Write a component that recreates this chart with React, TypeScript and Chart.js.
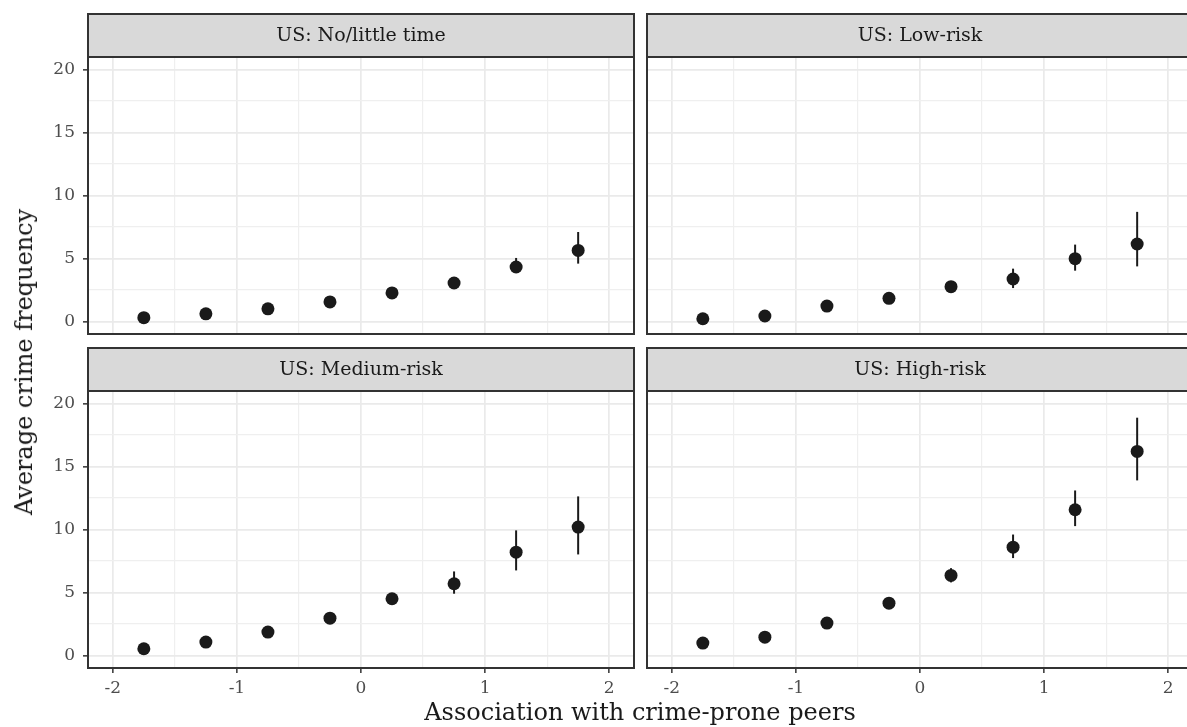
import React, { useEffect, useRef } from "react";
import { Chart, registerables } from "chart.js";

Chart.register(...registerables);

// ---------- data ----------
const xValues = [-1.75, -1.25, -0.75, -0.25, 0.25, 0.75, 1.25, 1.75];
const xTickValues = [-2, -1.5, -1, -0.5, 0, 0.5, 1, 1.5, 2];
const yTickValues = [0, 2.5, 5, 7.5, 10, 12.5, 15, 17.5, 20];

const panelTitles = ["US: No/little time", "US: Low-risk", "US: Medium-risk", "US: High-risk"];

const noLittleMean = [0.3, 0.6, 1.0, 1.55, 2.26, 3.05, 4.32, 5.64];
const noLittleLow = [0.15, 0.45, 0.8, 1.3, 1.95, 2.7, 3.85, 4.59];
const noLittleHigh = [0.45, 0.75, 1.2, 1.8, 2.55, 3.45, 5.04, 7.1];

const lowRiskMean = [0.21, 0.43, 1.22, 1.83, 2.76, 3.37, 4.98, 6.15];
const lowRiskLow = [0.1, 0.25, 0.95, 1.5, 2.35, 2.65, 4.03, 4.37];
const lowRiskHigh = [0.35, 0.6, 1.5, 2.2, 3.2, 4.19, 6.1, 8.7];

const mediumRiskMean = [0.53, 1.06, 1.85, 2.96, 4.5, 5.69, 8.2, 10.19];
const mediumRiskLow = [0.35, 0.8, 1.5, 2.55, 4.05, 4.9, 6.75, 8.02];
const mediumRiskHigh = [0.7, 1.3, 2.2, 3.4, 4.95, 6.67, 9.93, 12.63];

const highRiskMean = [0.98, 1.45, 2.57, 4.15, 6.35, 8.6, 11.57, 16.2];
const highRiskLow = [0.7, 1.1, 2.15, 3.7, 5.8, 7.73, 10.27, 13.9];
const highRiskHigh = [1.25, 1.8, 3.0, 4.6, 6.93, 9.6, 13.1, 18.88];

const xAxisTitle = "Association with crime-prone peers";
const yAxisTitle = "Average crime frequency";

// ---------- layout / style ----------
const CW = 1195;
const CH = 727;
const FONT = "'DejaVu Serif', serif";
const INK = "#1a1a1a";

type PanelDef = {
  title: string;
  mean: number[];
  low: number[];
  high: number[];
  area: [number, number, number, number];
  showX: boolean;
  showY: boolean;
};

const panels: PanelDef[] = [
  { title: panelTitles[0], mean: noLittleMean, low: noLittleLow, high: noLittleHigh, area: [88, 57, 634, 334], showX: false, showY: true },
  { title: panelTitles[1], mean: lowRiskMean, low: lowRiskLow, high: lowRiskHigh, area: [647, 57, 1193, 334], showX: false, showY: false },
  { title: panelTitles[2], mean: mediumRiskMean, low: mediumRiskLow, high: mediumRiskHigh, area: [88, 391, 634, 668], showX: true, showY: true },
  { title: panelTitles[3], mean: highRiskMean, low: highRiskLow, high: highRiskHigh, area: [647, 391, 1193, 668], showX: true, showY: false },
];

function PanelChart({ p }: { p: PanelDef }) {
  const ref = useRef<HTMLCanvasElement | null>(null);
  useEffect(() => {
    if (!ref.current) return;
    const [L, T, R, B] = p.area;
    const yw = p.showY ? 40 : 0;
    const xh = p.showX ? 30 : 0;

    const facetPlugin = {
      id: "facet",
      beforeDatasetsDraw(chart: any) {
        const { ctx, scales } = chart;
        const xs = scales.x;
        const ys = scales.y;
        ctx.save();
        ctx.strokeStyle = INK;
        ctx.lineWidth = 2;
        p.low.forEach((lo, i) => {
          const px = xs.getPixelForValue(xValues[i]);
          ctx.beginPath();
          ctx.moveTo(px, ys.getPixelForValue(lo));
          ctx.lineTo(px, ys.getPixelForValue(p.high[i]));
          ctx.stroke();
        });
        ctx.restore();
      },
      afterDraw(chart: any) {
        const { ctx, chartArea } = chart;
        const { left, top, right, bottom } = chartArea;
        ctx.save();
        ctx.strokeStyle = "#333333";
        ctx.lineWidth = 2;
        ctx.strokeRect(left, top, right - left, bottom - top);
        const sh = 43;
        ctx.fillStyle = "#D9D9D9";
        ctx.fillRect(left, top - sh, right - left, sh);
        ctx.strokeRect(left, top - sh, right - left, sh);
        ctx.fillStyle = INK;
        ctx.font = `19px ${FONT}`;
        ctx.textAlign = "center";
        ctx.textBaseline = "middle";
        ctx.fillText(p.title, (left + right) / 2, top - sh / 2 + 1);
        ctx.restore();
      },
    };

    const isMajorX = (v: number) => Number.isInteger(v);
    const isMajorY = (v: number) => v % 5 === 0;

    const chart = new Chart(ref.current, {
      type: "scatter",
      data: {
        datasets: [
          {
            data: xValues.map((x, i) => ({ x, y: p.mean[i] })),
            backgroundColor: INK,
            borderWidth: 0,
            pointRadius: 6.5,
            pointHoverRadius: 6.5,
          },
        ],
      },
      options: {
        animation: false,
        responsive: false,
        maintainAspectRatio: false,
        events: [],
        layout: {
          autoPadding: false,
          padding: { left: L - yw, top: T, right: CW - R, bottom: CH - B - xh },
        },
        plugins: { legend: { display: false }, tooltip: { enabled: false }, title: { display: false } },
        scales: {
          x: {
            type: "linear",
            min: -2.2,
            max: 2.2,
            afterBuildTicks: (s: any) => {
              s.ticks = xTickValues.map((v) => ({ value: v }));
            },
            afterFit: (s: any) => {
              s.height = xh;
            },
            border: { display: false },
            grid: {
              color: (c: any) => (isMajorX(c.tick?.value) ? "#EAEAEA" : "#EFEFEF"),
              lineWidth: (c: any) => (isMajorX(c.tick?.value) ? 1.7 : 1.2),
              drawTicks: p.showX,
              tickLength: 5,
              tickWidth: 1.5,
              tickColor: (c: any) => (isMajorX(c.tick?.value) ? "#333333" : "rgba(0,0,0,0)"),
            },
            ticks: {
              display: p.showX,
              autoSkip: false,
              maxRotation: 0,
              padding: 5,
              color: "#4D4D4D",
              font: { family: FONT, size: 17 },
              callback: (v: any) => (Number.isInteger(v) ? String(v) : ""),
            },
          },
          y: {
            type: "linear",
            min: -1,
            max: 21,
            afterBuildTicks: (s: any) => {
              s.ticks = yTickValues.map((v) => ({ value: v }));
            },
            afterFit: (s: any) => {
              s.width = yw;
            },
            border: { display: false },
            grid: {
              color: (c: any) => (isMajorY(c.tick?.value) ? "#EAEAEA" : "#EFEFEF"),
              lineWidth: (c: any) => (isMajorY(c.tick?.value) ? 1.7 : 1.2),
              drawTicks: p.showY,
              tickLength: 5,
              tickWidth: 1.5,
              tickColor: (c: any) => (isMajorY(c.tick?.value) ? "#333333" : "rgba(0,0,0,0)"),
            },
            ticks: {
              display: p.showY,
              autoSkip: false,
              padding: 8,
              color: "#4D4D4D",
              font: { family: FONT, size: 17 },
              callback: (v: any) => (v % 5 === 0 ? String(v) : ""),
            },
          },
        },
      },
      plugins: [facetPlugin],
    } as any);
    return () => chart.destroy();
  }, [p]);

  return (
    <canvas
      ref={ref}
      width={CW}
      height={CH}
      style={{ position: "absolute", left: 0, top: 0, width: CW, height: CH }}
    />
  );
}

export default function App() {
  return (
    <div
      style={{
        position: "fixed",
        left: 0,
        top: 0,
        width: 1187,
        height: 727,
        overflow: "hidden",
        background: "#ffffff",
      }}
    >
      {panels.map((p, i) => (
        <PanelChart key={i} p={p} />
      ))}
      <div
        style={{
          position: "absolute",
          left: 24,
          top: 362,
          transform: "translate(-50%, -50%) rotate(-90deg)",
          whiteSpace: "nowrap",
          fontFamily: FONT,
          fontSize: 24,
          color: INK,
        }}
      >
        {yAxisTitle}
      </div>
      <div
        style={{
          position: "absolute",
          left: 640,
          top: 712,
          transform: "translate(-50%, -50%)",
          whiteSpace: "nowrap",
          fontFamily: FONT,
          fontSize: 24,
          color: INK,
        }}
      >
        {xAxisTitle}
      </div>
    </div>
  );
}
